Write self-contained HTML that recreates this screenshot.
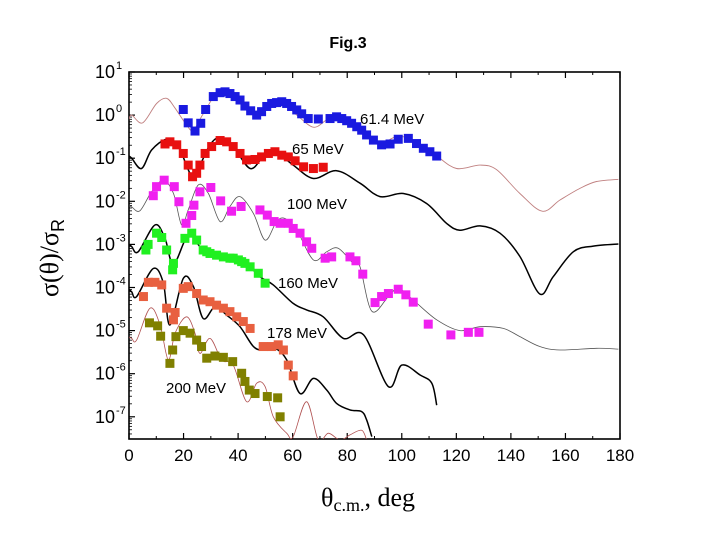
<!DOCTYPE html>
<html><head><meta charset="utf-8">
<style>
html,body{margin:0;padding:0;background:#fff;}
svg text{font-family:"Liberation Sans",Arial,sans-serif;}
</style></head>
<body>
<svg id="chart" width="720" height="540" xmlns="http://www.w3.org/2000/svg">
<rect width="720" height="540" fill="#fff"/>
<text x="348" y="48" font-size="16" font-weight="bold" text-anchor="middle">Fig.3</text>
<g id="axes"></g>
<g id="curves"></g>
<g id="points"></g>
<g id="labels"></g>
<text transform="translate(58,258) rotate(-90)" text-anchor="middle" font-size="26" style="font-family:'Liberation Serif',serif">σ(θ)/σ<tspan font-size="18" dy="6" style="font-family:'Liberation Sans',sans-serif">R</tspan></text>
<text x="368" y="506" text-anchor="middle" font-size="26" style="font-family:'Liberation Serif',serif">θ<tspan font-size="18" dy="5">c.m.</tspan><tspan dy="-5">, deg</tspan></text>
</svg>
<script>
// axis ranges
const xTicks=[0,20,40,60,80,100,120,140,160,180];
const yDecades=[1,0,-1,-2,-3,-4,-5,-6,-7];
// 61.4 MeV
const d61x=[19.9,21.7,24.2,26.3,28.1,30.9,33.4,35.2,37.0,38.9,40.7,42.5,44.6,46.8,48.6,50.5,52.3,54.1,56.0,57.8,59.6,61.5,63.3,65.7,69.4,73.7,76.1,78.0,79.8,81.6,83.5,85.3,87.1,89.6,92.6,95.7,98.7,102.4,105.4,107.9,110.3,112.8];
const d61y=[0.13,-0.18,-0.37,-0.19,0.13,0.43,0.52,0.54,0.50,0.43,0.35,0.21,0.10,0.00,0.08,0.20,0.27,0.29,0.31,0.27,0.20,0.12,0.03,-0.08,-0.09,-0.08,-0.04,-0.08,-0.13,-0.19,-0.27,-0.35,-0.46,-0.58,-0.69,-0.67,-0.56,-0.54,-0.66,-0.77,-0.85,-0.95];
const c61x=[0,1,5,10.1,13.8,16.9,21.1,23.6,27.3,33.4,39.5,45.6,55.4,61.5,67.6,72.5,76.1,81,90.8,98.1,104.2,112.8,120.1,128.7,134.8,143.3,151.5,158,165.3,171.4,179.4];
const c61y=[-0.1,0.0,-0.18,0.27,0.39,0.16,-0.23,-0.35,0.04,0.58,0.35,0.04,0.31,0.0,-0.28,-0.11,-0.04,-0.15,-0.65,-0.5,-0.58,-0.95,-1.24,-1.16,-1.27,-1.82,-2.23,-1.97,-1.7,-1.54,-1.49];
// 65 MeV
const d65x=[13.2,15.0,17.5,19.9,21.7,23.3,24.8,26.0,27.9,30.3,33.4,35.8,38.2,40.7,43.1,46.2,48.6,51.1,53.5,56.0,58.4,60.9,64.0,67.6,71.2];
const d65y=[-0.67,-0.62,-0.69,-0.89,-1.16,-1.43,-1.35,-1.16,-0.89,-0.73,-0.59,-0.62,-0.73,-0.89,-1.04,-1.03,-0.97,-0.89,-0.85,-0.93,-0.97,-1.06,-1.20,-1.24,-1.21];
const c65x=[0,1,4.6,8.3,13.8,18.1,23,26,29.7,33.4,38.2,44.4,49.2,53.5,60.2,67.6,76.1,84.7,92,100.6,109.1,116.4,121.3,128.7,136,143.3,150.6,155.5,162.9,170.2,179.4];
const c65y=[-0.95,-1.0,-1.24,-0.81,-0.56,-0.73,-1.41,-1.16,-0.69,-0.52,-0.73,-1.24,-0.97,-0.85,-1.16,-1.47,-1.29,-1.58,-1.89,-1.82,-2.05,-2.51,-2.67,-2.57,-2.74,-3.28,-4.15,-3.75,-3.17,-3.04,-2.99];
// 100 MeV
const d100x=[8.9,10.1,12.9,16.6,18.3,20.9,23.0,23.8,26.0,30.0,33.6,37.6,41.1,48.0,50.7,53.2,55.4,58.4,60.2,62.7,65.1,67.0,71.9,74.3,81.0,83.2,85.7,90.2,92.6,95.1,98.7,101.5,104.2,109.7,118.0,124.4,128.3];
const d100y=[-1.87,-1.66,-1.51,-1.66,-2.01,-2.51,-2.33,-2.09,-1.78,-1.68,-1.99,-2.23,-2.12,-2.20,-2.32,-2.47,-2.51,-2.51,-2.63,-2.74,-2.94,-3.09,-3.32,-3.29,-3.29,-3.38,-3.69,-4.35,-4.21,-4.14,-4.04,-4.17,-4.34,-4.85,-5.10,-5.04,-5.04];
const c100x=[0,1,4,8.3,12.6,16.3,19.3,21.7,25.4,29.1,33.4,37,40.7,45.6,49.9,54.1,57.2,61.5,67.6,72.5,76.7,82.2,84.7,89,95.1,98.7,104.2,112.8,121.3,128.7,137.2,143.3,150.6,158,171.4,179.4];
const c100y=[-2.1,-2.13,-2.22,-1.78,-1.51,-1.82,-2.55,-2.20,-1.62,-1.82,-2.47,-2.12,-1.89,-2.28,-2.90,-2.47,-2.40,-2.67,-3.36,-3.17,-3.09,-3.44,-3.52,-4.55,-4.21,-4.02,-4.29,-4.75,-5.0,-4.91,-4.95,-5.14,-5.37,-5.45,-5.41,-5.43];
// 160 MeV
const d160x=[6.2,7.0,10.1,12.0,13.8,16.0,16.3,20.5,23.0,24.8,27.2,28.5,29.7,32.1,34.6,37.0,38.2,40.1,41.3,42.5,44.4,47.4,49.9];
const d160y=[-3.13,-3.0,-2.74,-2.84,-3.13,-3.59,-3.44,-2.86,-2.74,-2.90,-3.13,-3.17,-3.21,-3.25,-3.29,-3.32,-3.32,-3.36,-3.40,-3.44,-3.52,-3.67,-3.90];
const c160x=[0,1,3.4,9.5,13.2,16.3,21.7,26,30.3,33.4,38.2,43.1,48,52.9,60.2,65.1,71.2,78.6,86,95.1,100,106.7,111,112.8];
const c160y=[-3.0,-3.05,-3.17,-2.55,-2.86,-3.46,-2.78,-3.05,-3.29,-3.32,-3.28,-3.44,-3.75,-3.94,-4.37,-4.52,-4.68,-5.18,-5.10,-6.30,-5.80,-6.03,-6.22,-6.73];
// 178 MeV
const d178x=[5.3,7.1,9.5,12.0,13.8,16.3,16.9,19.9,21.7,24.8,27.2,29.7,32.1,34.6,37.0,39.5,41.9,44.4,49.2,52.3,54.7,56.6,58.4,60.2];
const d178y=[-4.21,-3.88,-3.88,-3.94,-4.48,-4.75,-4.58,-4.02,-3.98,-4.14,-4.29,-4.33,-4.41,-4.48,-4.56,-4.68,-4.79,-4.95,-5.37,-5.37,-5.33,-5.45,-5.80,-6.05];
const c178x=[0,1,2.8,8.9,12.6,15.0,19.9,23.6,27.2,31.5,35.8,40.7,45.6,49.2,53.5,57.8,62.7,67.6,72.5,76.1,81,85.3,87.1,89];
const c178y=[-4.05,-4.10,-4.21,-3.56,-3.90,-4.87,-3.79,-3.98,-4.72,-4.45,-4.64,-4.91,-5.37,-5.45,-5.41,-5.68,-6.46,-6.11,-6.38,-6.69,-6.84,-6.88,-7.07,-7.46];
// 200 MeV
const d200x=[7.5,10.5,11.6,15.0,16.0,17.2,19.9,22.4,24.8,26.6,28.5,31.5,34.6,38.0,41.3,42.5,44.1,46.2,50.7,54.5,55.4];
const d200y=[-4.82,-4.89,-5.13,-5.76,-5.45,-5.14,-5.00,-5.06,-5.22,-5.37,-5.64,-5.59,-5.62,-5.72,-5.99,-6.18,-6.38,-6.46,-6.53,-6.56,-7.00];
const c200x=[0,1,2.8,7.7,11.4,14.4,16.9,21.1,24.2,26,29.7,34,38.2,43.1,46.8,49.9,52.9,57.8,60.2,65.1,69.4,73.1,77.4,81,85.3,87.1];
const c200y=[-5.15,-5.18,-5.22,-4.48,-4.87,-5.68,-5.06,-4.68,-5.06,-5.53,-5.18,-5.68,-5.80,-6.65,-6.22,-6.30,-7.0,-7.38,-7.46,-6.65,-7.54,-7.38,-7.54,-7.42,-7.31,-7.54];

const L=129,R=620,T=72,B=439,DEC=43.1;
const sx=v=>L+(v/180)*(R-L);
const sy=v=>T+(1-v)*DEC;
const NS='http://www.w3.org/2000/svg';
function mk(tag,attrs,parent){const e=document.createElementNS(NS,tag);for(const k in attrs)e.setAttribute(k,attrs[k]);parent.appendChild(e);return e;}
const axes=document.getElementById('axes');
const frame=mk('rect',{x:L,y:T,width:R-L,height:B-T,fill:'none',stroke:'#000','stroke-width':1.6},axes);


xTicks.forEach((t,i)=>{
  const x=sx(t);
  mk('line',{x1:x,y1:B,x2:x,y2:B-6,stroke:'#000','stroke-width':1.2},axes);
  mk('line',{x1:x,y1:T,x2:x,y2:T+6,stroke:'#000','stroke-width':1.2},axes);
  if(i<xTicks.length-1){const xm=sx(t+10);
    mk('line',{x1:xm,y1:B,x2:xm,y2:B-3,stroke:'#000'},axes);
    mk('line',{x1:xm,y1:T,x2:xm,y2:T+3,stroke:'#000'},axes);}
  const tx=mk('text',{x:x,y:B+22,'font-size':17,'text-anchor':'middle'},axes);
  tx.textContent=t;
  
  
});
yDecades.forEach(d=>{
  const y=sy(d);
  mk('line',{x1:L,y1:y,x2:L+6,y2:y,stroke:'#000','stroke-width':1.2},axes);
  for(let m=2;m<=9;m++){const ym=sy(d-1+Math.log10(m));if(ym<B)mk('line',{x1:L,y1:ym,x2:L+3,y2:ym,stroke:'#000','stroke-width':0.8},axes);}
  const tx=mk('text',{x:L-14,y:y+6,'font-size':18,'text-anchor':'end'},axes);
  tx.textContent='10';
  
  
  const sp=mk('text',{x:L-13,y:y-3,'font-size':11,'text-anchor':'start'},axes);
  sp.textContent=String(d);
  
  
});
const curves=document.getElementById('curves');
function curve(xs,ys,color,w,name){
  const P=xs.map((v,i)=>[sx(v),sy(ys[i])]);
  let d='M'+P[0][0].toFixed(1)+','+P[0][1].toFixed(1);
  for(let i=0;i<P.length-1;i++){
    const p0=P[Math.max(0,i-1)],p1=P[i],p2=P[i+1],p3=P[Math.min(P.length-1,i+2)];
    const c1=[p1[0]+(p2[0]-p0[0])/6,p1[1]+(p2[1]-p0[1])/6];
    const c2=[p2[0]-(p3[0]-p1[0])/6,p2[1]-(p3[1]-p1[1])/6];
    d+=' C'+c1[0].toFixed(1)+','+c1[1].toFixed(1)+' '+c2[0].toFixed(1)+','+c2[1].toFixed(1)+' '+p2[0].toFixed(1)+','+p2[1].toFixed(1);
  }
  const p=mk('path',{d:d,fill:'none',stroke:color,'stroke-width':w,'stroke-linejoin':'round','clip-path':'url(#plotclip)'},curves);
  
  
}
const defs=mk('defs',{},document.getElementById('chart'));
const cp=mk('clipPath',{id:'plotclip'},defs);
mk('rect',{x:L,y:T,width:R-L,height:B-T},cp);
curve(c61x,c61y,'#c08080',0.9,'curve-61mev');
curve(c65x,c65y,'#000',1.5,'curve-65mev');
curve(c100x,c100y,'#555',0.8,'curve-100mev');
curve(c160x,c160y,'#000',1.5,'curve-160mev');
curve(c178x,c178y,'#000',1.5,'curve-178mev');
curve(c200x,c200y,'#b05050',0.8,'curve-200mev');
const pts=document.getElementById('points');
function points(xs,ys,color,name){
  xs.forEach((v,i)=>{
    const r=mk('rect',{x:sx(v)-4.5,y:sy(ys[i])-4.5,width:9,height:9,fill:color},pts);
    
    
  });
}
points(d61x,d61y,'#1a1ae0','point-61mev');
points(d65x,d65y,'#e81010','point-65mev');
points(d100x,d100y,'#f020f0','point-100mev');
points(d160x,d160y,'#20f020','point-160mev');
points(d178x,d178y,'#e86040','point-178mev');
points(d200x,d200y,'#808000','point-200mev');
const labels=document.getElementById('labels');
[['61.4 MeV',360,124,'label-61mev'],['65 MeV',292,154,'label-65mev'],['100 MeV',287,209,'label-100mev'],['160 MeV',278,288,'label-160mev'],['178 MeV',267,338,'label-178mev'],['200 MeV',166,393,'label-200mev']].forEach(a=>{
  const t=mk('text',{x:a[1],y:a[2],'font-size':15},labels);
  t.textContent=a[0];
  
  
});
</script>
</body></html>
